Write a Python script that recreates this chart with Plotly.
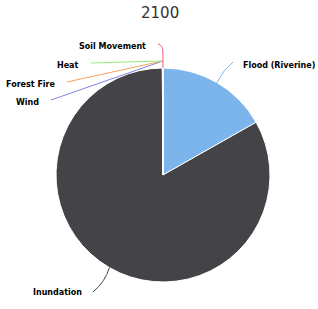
import math
import plotly.graph_objects as go

# Data
labels = ["Flood (Riverine)", "Inundation", "Heat", "Forest Fire", "Wind", "Soil Movement"]
values = [16.8, 83.1, 0.025, 0.025, 0.025, 0.025]
colors = ["#7cb5ec", "#434348", "#90ed7d", "#f7a35c", "#8085e9", "#f15c80"]
title_text = "2100"

W, H = 318, 309
ML, MR, MT, MB = 56, 48, 68, 27
PW, PH = W - ML - MR, H - MT - MB
CX, CY = ML + PW / 2, MT + PH / 2
R = min(PW, PH) / 2


def px(x, y):
    return (x - ML) / PW, 1 - (y - MT) / PH


fig = go.Figure(go.Pie(
    labels=labels, values=values, sort=False, direction="clockwise", rotation=0,
    marker=dict(colors=colors, line=dict(color="#ffffff", width=1)),
    textinfo="none", hoverinfo="label+percent", showlegend=False,
))

# label layout: (text anchor x, y, xanchor, connector start x, y, bend radius extra)
label_layout = {
    "Flood (Riverine)": (241, 65, "left", 233, 62, 0),
    "Inundation": (84, 292, "right", 93, 292, 0),
    "Heat": (81, 65, "right", 91, 63, 7),
    "Forest Fire": (58, 84, "right", 67, 82, 7),
    "Wind": (41, 102, "right", 51, 100, 7),
    "Soil Movement": (148, 46, "right", 158, 44, 0),
}

total = sum(values)
cum = 0
mids = {}
for lab, v in zip(labels, values):
    mids[lab] = 2 * math.pi * (cum + v / 2) / total
    cum += v

shapes = []
annotations = []
draw_order = ["Flood (Riverine)", "Inundation", "Wind", "Forest Fire", "Heat", "Soil Movement"]
for lab in draw_order:
    col = colors[labels.index(lab)]
    tx, ty, xa, sx, sy, extra = label_layout[lab]
    th = mids[lab]
    ex, ey = CX + R * math.sin(th), CY - R * math.cos(th)
    bx, by = CX + (R + 7) * math.sin(th), CY - (R + 7) * math.cos(th)
    if lab == "Soil Movement":
        p0 = px(sx, sy); p1 = px(bx, sy + 1); p2 = px(bx, sy + 8); p3 = px(ex, ey)
        path = f"M {p0[0]} {p0[1]} Q {p1[0]} {p1[1]} {p2[0]} {p2[1]} L {p3[0]} {p3[1]}"
    elif extra:
        p0 = px(sx, sy); p1 = px(bx, by)
        path = f"M {p0[0]} {p0[1]} L {p1[0]} {p1[1]}"
    else:
        p0 = px(sx, sy); p2 = px(ex, ey)
        qx, qy = (sx + ex) / 2, (sy + ey) / 2
        if lab == "Flood (Riverine)":
            qx, qy = qx - 2, qy - 2
        else:
            qx, qy = qx + 4, qy + 2
        p1 = px(qx, qy)
        path = f"M {p0[0]} {p0[1]} Q {p1[0]} {p1[1]} {p2[0]} {p2[1]}"
    shapes.append(dict(type="path", path=path, xref="paper", yref="paper",
                       line=dict(color=col, width=1), layer="above"))
    ax, ay = px(tx, ty)
    annotations.append(dict(text=f"<b>{lab}</b>", x=ax, y=ay, xref="paper", yref="paper",
                            xanchor=xa, yanchor="middle", showarrow=False,
                            font=dict(family="DejaVu Sans", size=8, color="#000000")))

tx, ty = px(W / 2 + 1, 13)
annotations.append(dict(text=title_text, x=tx, y=ty, xref="paper", yref="paper",
                        xanchor="center", yanchor="middle", showarrow=False,
                        font=dict(family="DejaVu Sans", size=15, color="#333333")))

fig.update_layout(
    width=W, height=H, margin=dict(l=ML, r=MR, t=MT, b=MB),
    paper_bgcolor="#ffffff", plot_bgcolor="#ffffff",
    shapes=shapes, annotations=annotations,
)
fig.write_html("out.html", config={"displayModeBar": False},
               post_script="document.body.style.margin='0';")
